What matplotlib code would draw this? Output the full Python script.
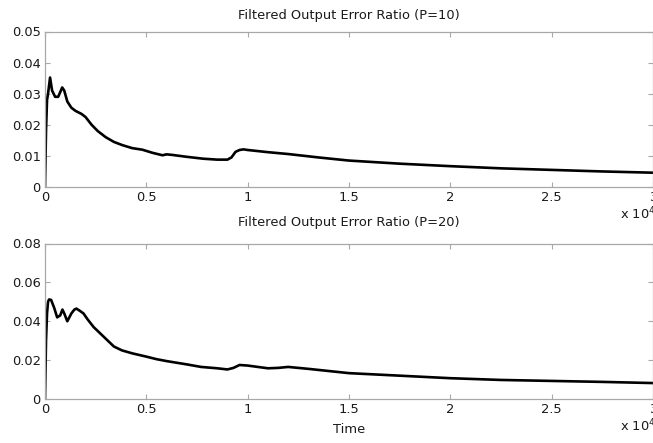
import matplotlib
matplotlib.use("Agg")
import matplotlib.pyplot as plt

plt.rcParams["font.family"] = ["DejaVu Sans"]

# Filtered output error ratio, P = 10
t_p10 = [0, 50, 100, 150, 250, 350, 500, 650, 750, 850, 950, 1100, 1300, 1500,
         1800, 2000, 2300, 2600, 3000, 3400, 3800, 4300, 4800, 5300, 5800, 6000,
         6300, 7000, 7800, 8500, 9000, 9200, 9400, 9600, 9800, 10000, 11000,
         12000, 13500, 15000, 17500, 20000, 22500, 25000, 27500, 30000]
err_p10 = [0, 0.018, 0.028, 0.030, 0.0352, 0.031, 0.029, 0.029, 0.0305, 0.032,
           0.031, 0.0275, 0.0255, 0.0245, 0.0235, 0.0225, 0.020, 0.018, 0.016,
           0.0145, 0.0135, 0.0125, 0.012, 0.011, 0.0102, 0.0105, 0.0103, 0.0097,
           0.0091, 0.0088, 0.0088, 0.0095, 0.0113, 0.0119, 0.0121, 0.0119,
           0.0112, 0.0106, 0.0095, 0.0085, 0.0075, 0.0067, 0.006, 0.0055,
           0.005, 0.0046]

# Filtered output error ratio, P = 20
t_p20 = [0, 50, 100, 150, 200, 300, 450, 600, 750, 860, 950, 1100, 1200, 1300,
         1450, 1550, 1700, 1900, 2100, 2400, 2700, 3000, 3400, 3800, 4300, 5000,
         5500, 6000, 7000, 7700, 8500, 9000, 9300, 9600, 10000, 11000, 11500,
         12000, 13000, 15000, 17500, 20000, 22500, 25000, 27500, 30000]
err_p20 = [0, 0.030, 0.044, 0.050, 0.0512, 0.051, 0.047, 0.042, 0.043, 0.046,
           0.044, 0.040, 0.042, 0.044, 0.046, 0.0465, 0.0455, 0.044, 0.041,
           0.037, 0.034, 0.031, 0.027, 0.025, 0.0235, 0.0218, 0.0205, 0.0195,
           0.0178, 0.0165, 0.0158, 0.0152, 0.016, 0.0175, 0.0172, 0.0158, 0.016,
           0.0165, 0.0155, 0.0133, 0.012, 0.0107, 0.0098, 0.0093, 0.0088, 0.0082]

x_ticks = [0, 5000, 10000, 15000, 20000, 25000, 30000]
x_tick_labels = ["0", "0.5", "1", "1.5", "2", "2.5", "3"]
y_ticks_p10 = [0, 0.01, 0.02, 0.03, 0.04, 0.05]
y_tick_labels_p10 = ["0", "0.01", "0.02", "0.03", "0.04", "0.05"]
y_ticks_p20 = [0, 0.02, 0.04, 0.06, 0.08]
y_tick_labels_p20 = ["0", "0.02", "0.04", "0.06", "0.08"]

W, H = 653, 443
fig = plt.figure(figsize=(W / 100, H / 100), dpi=100)
fig.patch.set_facecolor("white")

left = 45 / W
width = 1.0 - left
ax1 = fig.add_axes([left, 1 - 187 / H, width, 155.5 / H])
ax2 = fig.add_axes([left, 1 - 399 / H, width, 155.5 / H])

frame = "#a8a8a8"
ink = "#1a1a1a"
fs = 9.4
cx = left + width / 2

def style(ax, yt, ytl, ymax, title, title_y):
    ax.set_xlim(0, 30000)
    ax.set_ylim(0, ymax)
    ax.set_xticks(x_ticks)
    ax.set_xticklabels(x_tick_labels)
    ax.set_yticks(yt)
    ax.set_yticklabels(ytl)
    for s in ax.spines.values():
        s.set_color(frame)
        s.set_linewidth(0.9)
    ax.tick_params(direction="in", length=3.5, width=0.8, color=frame,
                   labelsize=fs, labelcolor=ink, top=True, right=True,
                   pad=3)
    fig.text(cx, 1 - title_y / H, title, fontsize=fs, ha="center",
             va="center", color=ink)
    # MATLAB-style exponent label sitting under the right end of the axis
    ax.text(0.945, -0.12, r"x 10$^4$", transform=ax.transAxes, fontsize=fs,
            ha="left", va="top", color=ink)

ax1.plot(t_p10, err_p10, color="black", lw=1.9, solid_joinstyle="round")
ax2.plot(t_p20, err_p20, color="black", lw=1.9, solid_joinstyle="round")

style(ax1, y_ticks_p10, y_tick_labels_p10, 0.05,
      "Filtered Output Error Ratio (P=10)", 15)
style(ax2, y_ticks_p20, y_tick_labels_p20, 0.08,
      "Filtered Output Error Ratio (P=20)", 223)
ax2.set_xlabel("Time", fontsize=fs, color=ink, labelpad=5)

fig.savefig("out.png", dpi=100)
